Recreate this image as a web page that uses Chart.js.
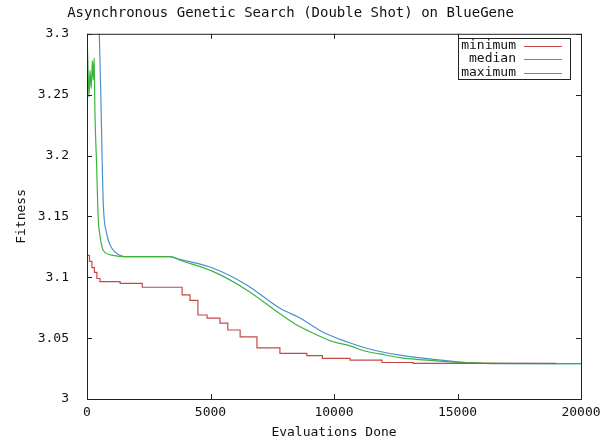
<!DOCTYPE html>
<html>
<head>
<meta charset="utf-8">
<script src="https://cdn.jsdelivr.net/npm/chart.js@4.4.1/dist/chart.umd.min.js"></script>
<style>
  html, body { margin: 0; padding: 0; background: #fff; }
  #wrap { width: 613px; height: 446px; }
</style>
</head>
<body>
<div id="wrap"><canvas id="chart" width="613" height="446"></canvas></div>
<script>
const xTicks = [0, 5000, 10000, 15000, 20000];
const yTicks = [3, 3.05, 3.1, 3.15, 3.2, 3.25, 3.3];

// minimum (stepped)
const minX = [0, 100, 200, 300, 400, 526, 1340, 2240, 3850, 4170, 4490, 4860, 5380, 5700, 6200, 6880, 7810, 8900, 9530, 10650, 11940, 13200, 19000];
const minY = [3.118, 3.113, 3.108, 3.104, 3.099, 3.0964, 3.095, 3.0918, 3.0855, 3.081, 3.069, 3.0665, 3.0624, 3.0567, 3.051, 3.042, 3.0375, 3.0356, 3.0334, 3.032, 3.030, 3.0292, 3.0292];

// median
const medX = [0, 30, 80, 120, 170, 220, 250, 290, 320, 393, 450, 520, 660, 1065, 1458, 3360, 3766, 5114, 6466, 7814, 8490, 9163, 9973, 10515, 11325, 11864, 12673, 14022, 15374, 16722, 20000];
const medY = [3.3, 3.28, 3.248, 3.27, 3.255, 3.278, 3.262, 3.28, 3.237, 3.19, 3.15, 3.135, 3.122, 3.118, 3.117, 3.117, 3.114, 3.1046, 3.0896, 3.070, 3.0608, 3.054, 3.047, 3.0444, 3.039, 3.037, 3.034, 3.0315, 3.0298, 3.0292, 3.029];

// maximum
const maxX = [440, 498, 560, 610, 660, 797, 1000, 1336, 1500, 3360, 3766, 5114, 6466, 7814, 8624, 9500, 10515, 11325, 11864, 12673, 14022, 15374, 16722, 20000];
const maxY = [3.36, 3.3, 3.25, 3.2, 3.16, 3.136, 3.124, 3.118, 3.117, 3.117, 3.1147, 3.1074, 3.0937, 3.0745, 3.0665, 3.0555, 3.047, 3.0417, 3.039, 3.036, 3.0326, 3.030, 3.029, 3.029];

const seriesNames = ["minimum", "median", "maximum"];
const seriesColors = ["#c44a48", "#3cb43c", "#4a90d0"];

function pts(xs, ys){ return xs.map((x, i) => ({ x: x, y: ys[i] })); }

const MONO = "'DejaVu Sans Mono', 'Liberation Mono', monospace";

// box, inward ticks and key, gnuplot style
const framePlugin = {
  id: "frame",
  afterDatasetsDraw(chart) {
    const { ctx, chartArea: a, scales } = chart;
    ctx.save();
    ctx.strokeStyle = "#222";
    ctx.lineWidth = 1;
    ctx.strokeRect(a.left + 0.5, a.top + 0.5, a.right - a.left, a.bottom - a.top);
    ctx.beginPath();
    xTicks.forEach(v => {
      const px = Math.round(scales.x.getPixelForValue(v)) + 0.5;
      ctx.moveTo(px, a.bottom); ctx.lineTo(px, a.bottom - 5);
      ctx.moveTo(px, a.top); ctx.lineTo(px, a.top + 5);
    });
    yTicks.forEach(v => {
      const py = Math.round(scales.y.getPixelForValue(v)) + 0.5;
      ctx.moveTo(a.left, py); ctx.lineTo(a.left + 5, py);
      ctx.moveTo(a.right, py); ctx.lineTo(a.right - 5, py);
    });
    ctx.stroke();

    // key
    const bx = 458, by = 38, bw = 112, bh = 41;
    ctx.fillStyle = "#fff";
    ctx.fillRect(bx, by, bw, bh);
    ctx.strokeStyle = "#222";
    ctx.strokeRect(bx + 0.5, by + 0.5, bw, bh);
    ctx.font = "13px " + MONO;
    ctx.textAlign = "right";
    ctx.textBaseline = "middle";
    chart.data.datasets.forEach((ds, i) => {
      const yy = by + 7.5 + i * 13.5;
      ctx.fillStyle = "#111";
      ctx.fillText(ds.label, bx + 58, yy);
      ctx.strokeStyle = ds.borderColor;
      ctx.beginPath();
      ctx.moveTo(bx + 66, Math.round(yy) + 0.5);
      ctx.lineTo(bx + 104, Math.round(yy) + 0.5);
      ctx.stroke();
    });
    ctx.restore();
  }
};

new Chart(document.getElementById("chart"), {
  type: "line",
  data: {
    datasets: [
      { label: seriesNames[0], data: pts(minX, minY), borderColor: seriesColors[0], stepped: true },
      { label: seriesNames[1], data: pts(medX, medY), borderColor: seriesColors[1], cubicInterpolationMode: "monotone" },
      { label: seriesNames[2], data: pts(maxX, maxY), borderColor: seriesColors[2], cubicInterpolationMode: "monotone" }
    ]
  },
  options: {
    responsive: false,
    animation: false,
    layout: { padding: { left: 0, right: 32, top: 0, bottom: 0 } },
    elements: {
      point: { radius: 0 },
      line: { borderWidth: 1.2 }
    },
    plugins: {
      legend: { display: false },
      tooltip: { enabled: false },
      title: {
        display: true,
        text: "Asynchronous Genetic Search (Double Shot) on BlueGene",
        color: "#111",
        font: { family: MONO, size: 14, weight: "normal", lineHeight: 1.2 },
        padding: { top: 5, bottom: 12 }
      }
    },
    scales: {
      x: {
        type: "linear",
        min: 0, max: 20000,
        afterBuildTicks: s => { s.ticks = xTicks.map(v => ({ value: v })); },
        afterFit: s => { s.height = 47; },
        grid: { display: false, drawTicks: false },
        border: { display: false },
        ticks: { color: "#111", font: { family: MONO, size: 13 }, padding: 6, maxRotation: 0, callback: v => String(v) },
        title: { display: true, text: "Evaluations Done", color: "#111", font: { family: MONO, size: 13 }, padding: { top: 4, bottom: 6 } }
      },
      y: {
        min: 3, max: 3.3,
        afterBuildTicks: s => { s.ticks = yTicks.map(v => ({ value: v })); },
        afterFit: s => { s.width = 87; },
        grid: { display: false },
        border: { display: false },
        ticks: { color: "#111", font: { family: MONO, size: 13 }, padding: 10, callback: v => String(Number(v.toFixed(2))) },
        title: { display: true, text: "Fitness", color: "#111", font: { family: MONO, size: 13 }, padding: { top: 14, bottom: 0 } }
      }
    }
  },
  plugins: [framePlugin]
});
</script>
</body>
</html>
